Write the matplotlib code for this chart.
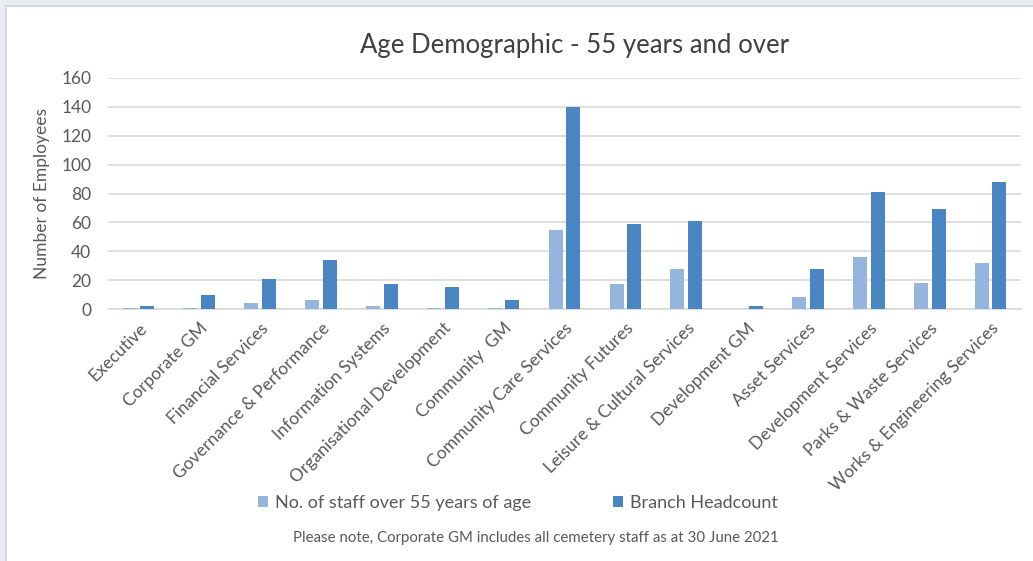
import numpy as np
import matplotlib
matplotlib.use("Agg")
import matplotlib.pyplot as plt
from matplotlib.patches import Rectangle

plt.rcParams['font.family'] = ['Lato', 'DejaVu Sans']

# Branch names and headcounts
branches = ["Executive", "Corporate GM", "Financial Services", "Governance & Performance",
            "Information Systems", "Organisational Development", "Community  GM",
            "Community Care Services", "Community Futures", "Leisure & Cultural Services",
            "Development GM", "Asset Services", "Development Services",
            "Parks & Waste Services", "Works & Engineering Services"]
over_55 = [1, 1, 4, 6, 2, 1, 1, 55, 17, 28, 0, 8, 36, 18, 32]
headcount = [2, 10, 21, 34, 17, 15, 6, 140, 59, 61, 2, 28, 81, 69, 88]
yticks = [0, 20, 40, 60, 80, 100, 120, 140, 160]

light = '#93b5de'
dark = '#4a86c2'
txt = '#595959'

fig = plt.figure(figsize=(10.33, 5.61), dpi=100)

# grey frame round the chart
fig.patches.append(Rectangle((0, 0), 1, 1, transform=fig.transFigure,
                             facecolor='#e9edf3', edgecolor='none', zorder=-3))
fig.patches.append(Rectangle((6 / 1033, -0.01), 1.0, 1 - 6 / 561 + 0.01, transform=fig.transFigure,
                             facecolor='white', edgecolor='#d5dae2', linewidth=1.5, zorder=-2))

ax = fig.add_axes([108 / 1033, 1 - 309 / 561, (1021 - 108) / 1033, (309 - 78) / 561])

x = np.arange(len(branches))
w = 0.23
ax.bar(x - 0.145, over_55, w, color=light, label='No. of staff over 55 years of age', zorder=3)
ax.bar(x + 0.145, headcount, w, color=dark, label='Branch Headcount', zorder=3)

ax.set_xlim(-0.5, len(branches) - 0.5)
ax.set_ylim(0, 160)
ax.set_yticks(yticks)
ax.yaxis.grid(True, color='#d9d9d9', linewidth=1.2, zorder=0)
ax.set_axisbelow(True)
for s in ['top', 'right', 'left']:
    ax.spines[s].set_visible(False)
ax.spines['bottom'].set_color('#d9d9d9')
ax.spines['bottom'].set_linewidth(1.2)
ax.tick_params(axis='both', length=0, colors=txt, labelsize=12.5)
ax.tick_params(axis='y', pad=12)

ax.set_xticks(x)
ax.set_xticklabels(branches, rotation=45, ha='right', va='top', rotation_mode='anchor',
                   fontsize=12.5, color=txt)
ax.tick_params(axis='x', pad=8)

ax.set_ylabel('Number of Employees', fontsize=12.5, color=txt, labelpad=8)

fig.text(575 / 1033, 1 - 45 / 561, 'Age Demographic - 55 years and over',
         ha='center', va='center', fontsize=18.5, color='#404040')

fig.legend(loc='center', bbox_to_anchor=(518 / 1033, 1 - 503 / 561), ncol=2, frameon=False,
           fontsize=13, labelcolor=txt, handlelength=0.55, handleheight=0.55,
           handletextpad=0.4, columnspacing=4.5)

fig.text(536 / 1033, 1 - 538 / 561,
         'Please note, Corporate GM includes all cemetery staff as at 30 June 2021',
         ha='center', va='center', fontsize=10.8, color=txt)

fig.savefig('out.png', dpi=100)
